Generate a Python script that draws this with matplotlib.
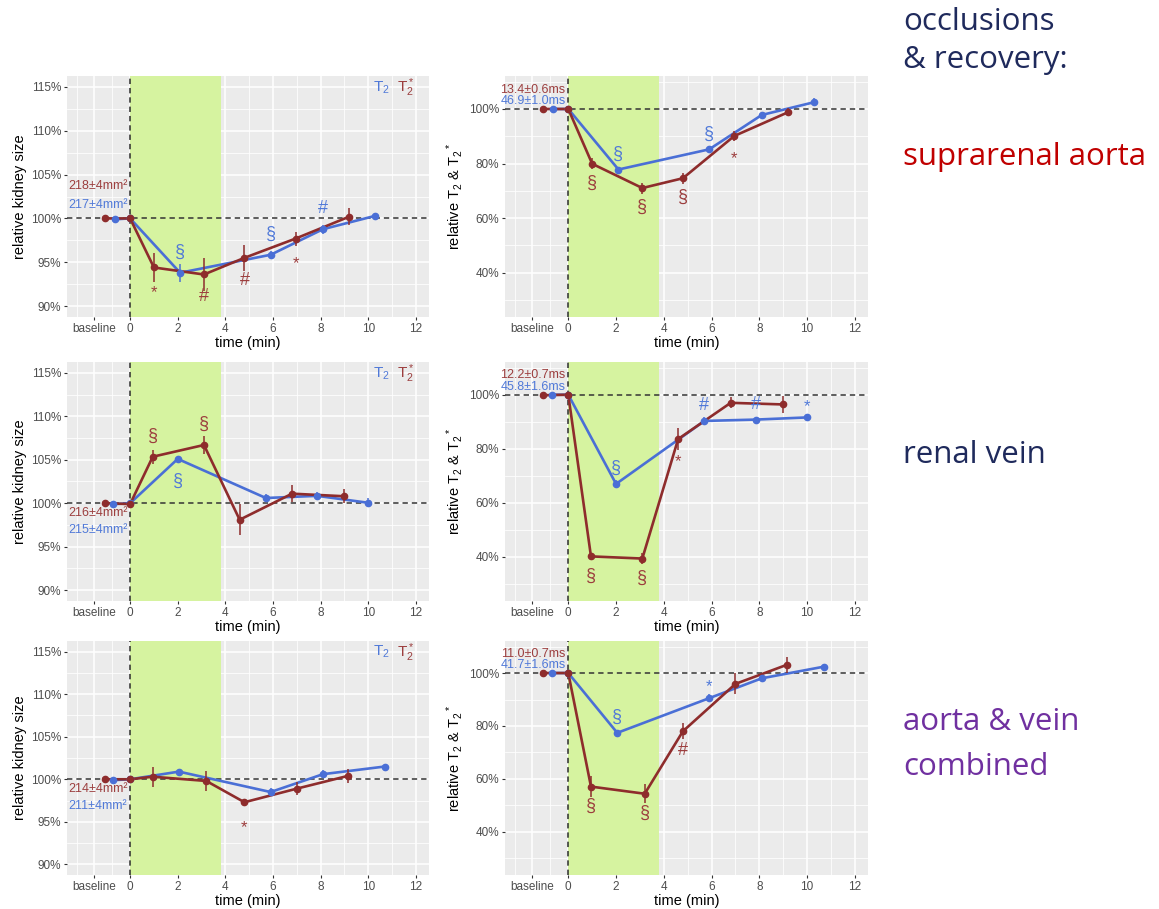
import matplotlib
matplotlib.use("Agg")
import matplotlib.pyplot as plt

# ---- data (values in % of baseline) ----
# time points (min); the first point is the baseline, drawn left of 0
aorta_t2s_time = [-1.05, 0, 1.0, 3.1, 4.8, 6.95, 9.2]
aorta_t2_time = [-0.65, 0, 2.1, 5.9, 8.1, 10.3]
vein_t2s_time = [-1.05, 0, 0.95, 3.1, 4.6, 6.8, 9.0]
vein_t2_time = [-0.7, 0, 2.0, 5.7, 7.85, 10.0]
comb_t2s_time = [-1.05, 0, 0.95, 3.2, 4.8, 7.0, 9.15]
comb_t2_time = [-0.7, 0, 2.05, 5.9, 8.1, 10.7]

# relative kidney size
aorta_size_t2s = [100, 100, 94.4, 93.6, 95.5, 97.7, 100.2]
aorta_size_t2s_err = [0, 0, 1.7, 1.9, 1.5, 0.8, 1.0]
aorta_size_t2 = [99.9, 100, 93.8, 95.85, 98.77, 100.3]
aorta_size_t2_err = [0, 0, 1.0, 0.4, 0.5, 0.2]

vein_size_t2s = [100, 99.9, 105.35, 106.7, 98.1, 101.1, 100.8]
vein_size_t2s_err = [0, 0, 0.8, 1.0, 1.8, 1.0, 0.8]
vein_size_t2 = [99.9, 100, 105.1, 100.6, 100.85, 100.05]
vein_size_t2_err = [0, 0, 0.3, 0.5, 0.4, 0.5]

comb_size_t2s = [100, 100, 100.3, 99.8, 97.3, 98.9, 100.4]
comb_size_t2s_err = [0, 0, 1.2, 1.2, 0.4, 0.8, 0.8]
comb_size_t2 = [99.9, 100, 100.9, 98.5, 100.6, 101.5]
comb_size_t2_err = [0, 0, 0.3, 0.5, 0.5, 0.3]

# relative T2 / T2*
aorta_rel_t2s = [100, 100, 79.9, 71.0, 74.6, 90.1, 98.8]
aorta_rel_t2s_err = [0, 0, 2, 2, 2, 2, 1.5]
aorta_rel_t2 = [100, 100, 77.8, 85.2, 97.8, 102.5]
aorta_rel_t2_err = [0, 0, 1, 0.5, 1, 1.5]

vein_rel_t2s = [99.8, 100, 40.2, 39.4, 83.6, 97.0, 96.4]
vein_rel_t2s_err = [0, 0, 1, 2, 4, 2, 3]
vein_rel_t2 = [100, 100, 67.0, 90.3, 90.8, 91.6]
vein_rel_t2_err = [0, 0, 1.5, 1.5, 0.5, 1]

comb_rel_t2s = [100, 100, 57.1, 54.4, 78.0, 95.9, 103.1]
comb_rel_t2s_err = [0, 0, 4, 3.5, 3, 4, 3]
comb_rel_t2 = [100, 100, 77.4, 90.5, 98.0, 102.4]
comb_rel_t2_err = [0, 0, 0.5, 1.5, 1, 1]

# significance marks: (point index, symbol, +1 above / -1 below)
aorta_size_t2s_sig = [(2, "*", -1), (3, "#", -1), (4, "#", -1), (5, "*", -1)]
aorta_size_t2_sig = [(2, "§", 1), (3, "§", 1), (4, "#", 1)]
vein_size_t2s_sig = [(2, "§", 1), (3, "§", 1)]
vein_size_t2_sig = [(2, "§", -1)]
comb_size_t2s_sig = [(4, "*", -1)]
comb_size_t2_sig = []
aorta_rel_t2s_sig = [(2, "§", -1), (3, "§", -1), (4, "§", -1), (5, "*", -1)]
aorta_rel_t2_sig = [(2, "§", 1), (3, "§", 1)]
vein_rel_t2s_sig = [(2, "§", -1), (3, "§", -1), (4, "*", -1)]
vein_rel_t2_sig = [(2, "§", 1), (3, "#", 1), (4, "#", 1), (5, "*", 1)]
comb_rel_t2s_sig = [(2, "§", -1), (3, "§", -1), (4, "#", -1)]
comb_rel_t2_sig = [(2, "§", 1), (3, "*", 1)]

# absolute baseline values (T2*, T2)
aorta_size_base = ["218±4mm²", "217±4mm²"]
vein_size_base = ["216±4mm²", "215±4mm²"]
comb_size_base = ["214±4mm²", "211±4mm²"]
aorta_rel_base = ["13.4±0.6ms", "46.9±1.0ms"]
vein_rel_base = ["12.2±0.7ms", "45.8±1.6ms"]
comb_rel_base = ["11.0±0.7ms", "41.7±1.6ms"]

x_ticks = [-1.5, 0, 2, 4, 6, 8, 10, 12]
x_labels = ["baseline", "0", "2", "4", "6", "8", "10", "12"]
occlusion_end = 3.8

RED = "#8e2c2c"
BLUE = "#4a6fd6"
RED_TXT = "#9c3e3e"
BLUE_TXT = "#5079d8"

plt.rcParams["font.family"] = ["Liberation Sans", "DejaVu Sans"]
plt.rcParams["mathtext.fontset"] = "custom"
plt.rcParams["mathtext.rm"] = "Liberation Sans"
plt.rcParams["mathtext.it"] = "Liberation Sans:italic"


def draw_panel(ax, kind, t2s_x, t2s_y, t2s_err, t2_x, t2_y, t2_err,
               t2s_sig, t2_sig, base, base_below=False):
    ax.set_facecolor("#ebebeb")
    ax.set_axisbelow(True)
    for s in ax.spines.values():
        s.set_visible(False)

    ax.set_xlim(-2.65, 12.55)
    ax.set_xticks(x_ticks)
    ax.set_xticklabels(x_labels)
    ax.set_xticks([-2.25, -0.75, 1, 3, 5, 7, 9, 11], minor=True)
    if kind == "size":
        ax.set_ylim(88.75, 116.25)
        ax.set_yticks([90, 95, 100, 105, 110, 115])
        ax.set_yticks([92.5, 97.5, 102.5, 107.5, 112.5], minor=True)
        ax.set_ylabel("relative kidney size", fontsize=10.5, labelpad=3)
    else:
        ax.set_ylim(23.7, 112.1)
        ax.set_yticks([40, 60, 80, 100])
        ax.set_yticks([30, 50, 70, 90, 110], minor=True)
        ax.set_ylabel("relative T$_2$ & T$_2$$^*$", fontsize=10.5, labelpad=3)
    ax.set_yticklabels([f"{int(v)}%" for v in ax.get_yticks()])
    ax.set_xlabel("time (min)", fontsize=10.5, labelpad=1)

    ax.grid(which="major", color="white", lw=1.1)
    ax.grid(which="minor", color="white", lw=0.55)
    ax.tick_params(which="major", length=2.5, width=0.8, color="#333333",
                   labelcolor="#4d4d4d", labelsize=8.5, pad=1.5)
    ax.tick_params(which="minor", length=0)

    ax.axvspan(0, occlusion_end, color="#d6f3a0", lw=0, zorder=1)
    ax.axvline(0, color="#2b2b2b", lw=1.1, ls=(0, (3.5, 2.6)), zorder=2)
    ax.axhline(100, color="#333333", lw=1.1, ls=(0, (3.5, 2.6)), zorder=2)

    for x, y, e, c in [(t2_x, t2_y, t2_err, BLUE), (t2s_x, t2s_y, t2s_err, RED)]:
        ax.plot(x, y, color=c, lw=1.9, zorder=3)
        ax.errorbar(x, y, yerr=e, fmt="o", color=c, ms=4.5, elinewidth=1.1,
                    capsize=0, zorder=4)

    for sig, x, y, e, c in [(t2s_sig, t2s_x, t2s_y, t2s_err, RED_TXT),
                            (t2_sig, t2_x, t2_y, t2_err, BLUE_TXT)]:
        for i, sym, side in sig:
            if kind == "size":
                off = 16 if side < 0 else 15
            else:
                off = 14 if side < 0 else 11
            if sym == "*":
                dy = (off - 3) if side > 0 else -(off - 1) - 3
                fs = 12
            else:
                dy = side * off
                fs = 13
            ax.annotate(sym, (x[i], y[i]), xytext=(0, dy),
                        textcoords="offset points", ha="center", va="center",
                        color=c, fontsize=fs, zorder=5)

    if kind == "size":
        offs = (-7, -19) if base_below else (23, 9.5)
    else:
        offs = (14, 5.5)
    for txt, off, c in zip(base, offs, [RED_TXT, BLUE_TXT]):
        ax.annotate(txt, (0, 100), xytext=(-2, off), textcoords="offset points",
                    ha="right", va="center", color=c, fontsize=9, zorder=5)

    if kind == "size":
        ax.text(0.868, 0.952, "T$_2$", color=BLUE_TXT, fontsize=11,
                transform=ax.transAxes, ha="center", va="center")
        ax.text(0.935, 0.952, "T$_2^*$", color=RED_TXT, fontsize=11,
                transform=ax.transAxes, ha="center", va="center")


fig = plt.figure(figsize=(11.59, 9.09), dpi=100)
W, H = 1159, 909
cols = [(67, 429), (505, 868)]
rows = [(76, 317), (362, 601), (641, 875)]


def make_ax(col, row):
    x0, x1 = cols[col]
    y0, y1 = rows[row]
    return fig.add_axes([x0 / W, 1 - y1 / H, (x1 - x0) / W, (y1 - y0) / H])


draw_panel(make_ax(0, 0), "size", aorta_t2s_time, aorta_size_t2s, aorta_size_t2s_err,
           aorta_t2_time, aorta_size_t2, aorta_size_t2_err,
           aorta_size_t2s_sig, aorta_size_t2_sig, aorta_size_base)
draw_panel(make_ax(1, 0), "rel", aorta_t2s_time, aorta_rel_t2s, aorta_rel_t2s_err,
           aorta_t2_time, aorta_rel_t2, aorta_rel_t2_err,
           aorta_rel_t2s_sig, aorta_rel_t2_sig, aorta_rel_base)
draw_panel(make_ax(0, 1), "size", vein_t2s_time, vein_size_t2s, vein_size_t2s_err,
           vein_t2_time, vein_size_t2, vein_size_t2_err,
           vein_size_t2s_sig, vein_size_t2_sig, vein_size_base, base_below=True)
draw_panel(make_ax(1, 1), "rel", vein_t2s_time, vein_rel_t2s, vein_rel_t2s_err,
           vein_t2_time, vein_rel_t2, vein_rel_t2_err,
           vein_rel_t2s_sig, vein_rel_t2_sig, vein_rel_base)
draw_panel(make_ax(0, 2), "size", comb_t2s_time, comb_size_t2s, comb_size_t2s_err,
           comb_t2_time, comb_size_t2, comb_size_t2_err,
           comb_size_t2s_sig, comb_size_t2_sig, comb_size_base, base_below=True)
draw_panel(make_ax(1, 2), "rel", comb_t2s_time, comb_rel_t2s, comb_rel_t2s_err,
           comb_t2_time, comb_rel_t2, comb_rel_t2_err,
           comb_rel_t2s_sig, comb_rel_t2_sig, comb_rel_base)

# headings on the right
side_txt = [("occlusions", 22, "#1f2a5c"), ("& recovery:", 60, "#1f2a5c"),
            ("suprarenal aorta", 157, "#c00000"), ("renal vein", 455, "#1f2a5c"),
            ("aorta & vein", 722, "#7030a0"), ("combined", 767, "#7030a0")]
for txt, y, c in side_txt:
    fig.text(903 / W, 1 - y / H, txt, color=c, fontsize=22.5, va="center",
             ha="left", family=["Open Sans", "DejaVu Sans"])

fig.savefig("out.png", dpi=100)
